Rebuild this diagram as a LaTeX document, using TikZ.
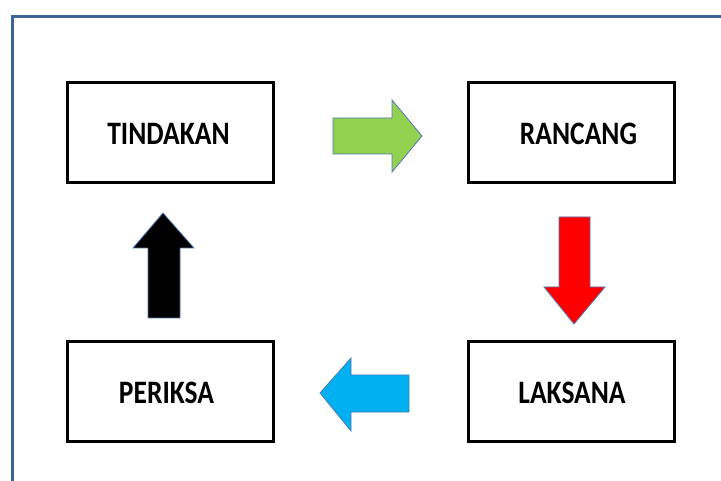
\documentclass[tikz,border=0pt]{standalone}
\usepackage{fontspec}
\setmainfont{Carlito}
\definecolor{framecol}{RGB}{62,100,150}
\definecolor{edgecol}{RGB}{80,120,180}
\definecolor{arrgreen}{RGB}{146,208,80}
\definecolor{arrred}{RGB}{255,0,0}
\definecolor{arrblue}{RGB}{0,176,240}
\tikzset{
  stepbox/.style={draw=black,line width=3pt,minimum width=206pt,minimum height=100pt,inner sep=0pt},
  blockarrow/.style={draw=edgecol,line width=0.8pt,line join=miter},
  lbl/.style={font=\bfseries\fontsize{27.5}{33}\selectfont,inner sep=0pt}
}
\newcommand{\boxlbl}[1]{\scalebox{1}[1.19]{#1}}
\begin{document}
\begin{tikzpicture}[x=1pt,y=-1pt]
\useasboundingbox (0,0) rectangle (721,481);
% frame
\draw[framecol,line width=3pt] (12,490) -- (12,17) -- (730,17);
% boxes
\node[stepbox] (tindakan) at (170,132.5) {};
\node[stepbox] (rancang) at (571.5,133) {};
\node[stepbox] (periksa) at (170,391.5) {};
\node[stepbox] (laksana) at (571.5,391.5) {};
% labels
\node[lbl] (t1) at (168.5,133.5) {\boxlbl{TINDAKAN}};
\node[lbl] (t2) at (578.5,133.5) {\boxlbl{RANCANG}};
\node[lbl] (t3) at (166.5,392.5) {\boxlbl{PERIKSA}};
\node[lbl] (t4) at (572,392.5) {\boxlbl{LAKSANA}};
% block arrows
\filldraw[blockarrow,fill=arrgreen] (333,118) -- (392,118) -- (392,100) -- (422,136) -- (392,172) -- (392,154) -- (333,154) -- cycle;
\filldraw[blockarrow,fill=arrred] (559,217) -- (590,217) -- (590,287) -- (605,287) -- (574,324) -- (544,287) -- (559,287) -- cycle;
\filldraw[blockarrow,fill=arrblue] (409,375) -- (351,375) -- (351,358) -- (320,393) -- (351,431) -- (351,412) -- (409,412) -- cycle;
\filldraw[blockarrow,fill=black] (148,318) -- (148,248) -- (133,248) -- (163,213) -- (194,248) -- (180,248) -- (180,318) -- cycle;
\end{tikzpicture}
\end{document}
